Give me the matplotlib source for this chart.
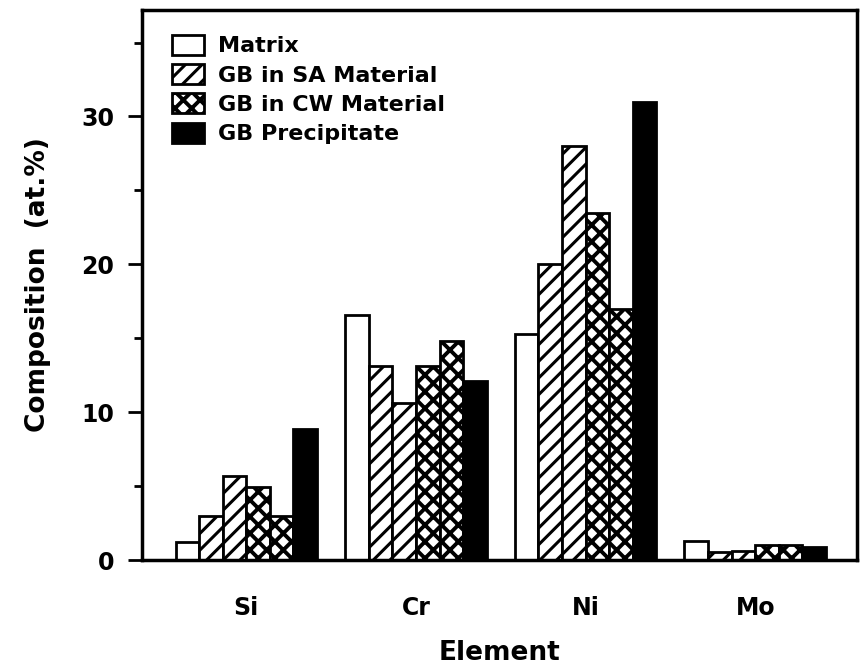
import numpy as np
import matplotlib
matplotlib.use('Agg')
import matplotlib.pyplot as plt
from matplotlib.patches import Patch
from matplotlib.ticker import MultipleLocator

plt.rcParams['font.family'] = ['DejaVu Sans']
plt.rcParams['font.weight'] = 'bold'

elements = ['Si', 'Cr', 'Ni', 'Mo']
matrix = [1.2, 16.55, 15.3, 1.3]
sa_1 = [3.0, 13.1, 20.0, 0.55]
sa_2 = [5.7, 10.6, 28.0, 0.6]
cw_1 = [4.95, 13.1, 23.5, 1.0]
cw_2 = [3.0, 14.8, 16.95, 1.0]
precipitate = [8.85, 12.1, 31.0, 0.9]

# fill colour, hatch pattern and hatch line width per kind of measurement
styles = {
    'matrix': ('white', '', 1.0),
    'sa': ('white', '//', 2.2),
    'cw': ('white', 'xx', 2.8),
    'ppt': ('black', '', 1.0),
}
series = [
    (matrix, 'matrix'),
    (sa_1, 'sa'),
    (sa_2, 'sa'),
    (cw_1, 'cw'),
    (cw_2, 'cw'),
    (precipitate, 'ppt'),
]


def styled_patch(p, kind):
    fc, hatch, hlw = styles[kind]
    p.set_facecolor(fc)
    p.set_edgecolor('black')
    p.set_hatch(hatch)
    if hasattr(p, 'set_hatch_linewidth'):
        p.set_hatch_linewidth(hlw)
    return p


fig = plt.figure(figsize=(8.6, 6.7), dpi=100)
ax = fig.add_axes([142/860, 1 - 560/670, (857 - 142)/860, (560 - 10)/670])

x = np.arange(len(elements))
w = 0.139
for i, (vals, kind) in enumerate(series):
    with plt.rc_context({'hatch.linewidth': styles[kind][2]}):
        bars = ax.bar(x + (i - 2.5) * w, vals, w, linewidth=2)
    for b in bars:
        styled_patch(b, kind)

ax.set_xlim(-0.615, 3.6)
ax.set_ylim(0, 37.2)
ax.set_xticks(x)
ax.set_xticklabels(elements)
ax.yaxis.set_major_locator(MultipleLocator(10))
ax.yaxis.set_minor_locator(MultipleLocator(5))
ax.tick_params(axis='x', length=0, pad=26, labelsize=17)
ax.tick_params(axis='y', which='major', direction='out', length=10, width=2,
               pad=10, labelsize=17)
ax.tick_params(axis='y', which='minor', direction='out', length=6, width=2)
for sp in ax.spines.values():
    sp.set_linewidth(2.5)

ax.set_xlabel('Element', fontsize=19, fontweight='bold', labelpad=14)
ax.set_ylabel('Composition  (at.%)', fontsize=19, fontweight='bold', labelpad=22)

kinds = ['matrix', 'sa', 'cw', 'ppt']
labels = ['Matrix', 'GB in SA Material', 'GB in CW Material', 'GB Precipitate']
handles = [styled_patch(Patch(linewidth=2, label=lab), kind)
           for kind, lab in zip(kinds, labels)]

leg = ax.legend(handles=handles, loc='upper left', frameon=False, fontsize=16,
                handlelength=1.45, handleheight=1.0, handletextpad=0.6,
                labelspacing=0.35, borderaxespad=0, borderpad=0,
                bbox_to_anchor=(0.042, 0.955))
for h, kind in zip(leg.legend_handles, kinds):
    styled_patch(h, kind)
    h.set_linewidth(2)

fig.savefig('out.png', dpi=100)
